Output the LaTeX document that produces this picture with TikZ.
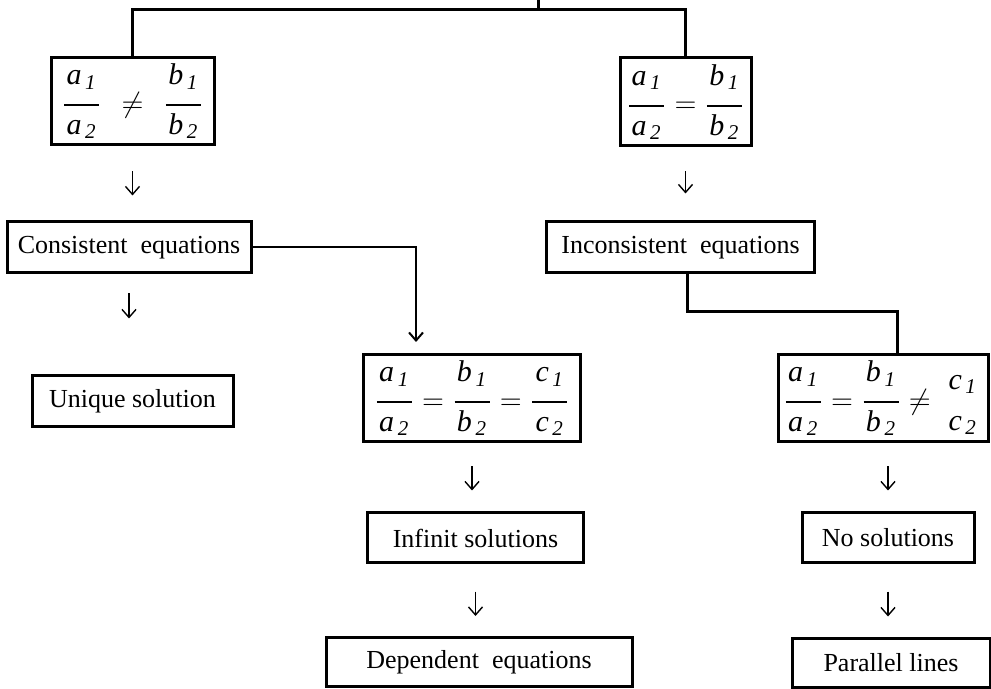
\documentclass[tikz,border=0pt]{standalone}
\usepackage{amsmath}
\usepackage{fontspec}
\setmainfont{Liberation Serif}
\usetikzlibrary{arrows.meta}
\newcommand{\coef}[2]{\hbox to 17.5pt{\hss$\textit{#1}_{\,\textit{#2}}$\hss}}
\newcommand{\ratio}[2][1.2pt]{\genfrac{}{}{#1}{0}{\coef{#2}{1}\rule[-6pt]{0pt}{6pt}}{\rule{0pt}{10.5pt}\coef{#2}{2}}}
\tikzset{
  box/.style={draw,line width=1.5pt,inner sep=0pt,font=\fontsize{13}{15}\selectfont},
  mathbox/.style={box,font=\fontsize{15}{18}\selectfont},
  tree/.style={line width=1.5pt},
  link/.style={line width=1pt},
  down/.style={->,line width=0.7pt}
}
\begin{document}
\begin{tikzpicture}[x=0.5pt,y=-0.5pt,>={Straight Barb[length=4pt,width=7pt]}]
      \useasboundingbox (0,0) rectangle (991,689);

      \node[mathbox,minimum width=81.5pt,minimum height=43.5pt] (ne)     at (132.5,101.5) {$\ratio{a}\hspace{6pt}\neq\hspace{6pt}\ratio{b}$};
      \node[mathbox,minimum width=65.5pt,minimum height=44pt]   (eq)     at (685.5,102)   {$\ratio{a}=\ratio{b}$};
      \node[box,minimum width=122pt,minimum height=25.5pt]      (cons)   at (129,247.5)   {Consistent~~equations};
      \node[box,minimum width=134pt,minimum height=25.5pt]      (incons) at (680.5,247.5) {Inconsistent~~equations};
      \node[box,minimum width=100.5pt,minimum height=25.5pt]    (unique) at (132.5,401.5) {Unique solution};
      \node[mathbox,minimum width=108.5pt,minimum height=43.5pt] (same)  at (472,398.5)   {$\ratio{a}=\ratio{b}=\ratio{c}$};
      \node[mathbox,minimum width=105pt,minimum height=43.5pt]  (differ) at (883,398.5)   {$\ratio{a}=\ratio{b}\neq\hspace{2pt}\ratio[0pt]{c}$};
      \node[box,minimum width=108pt,minimum height=25pt]        (inf)    at (475.5,538)   {Infinit solutions};
      \node[box,minimum width=153pt,minimum height=24.5pt]      (dep)    at (479,662)     {Dependent~~equations};
      \node[box,minimum width=86pt,minimum height=25pt]         (nosol)  at (888,538)     {No solutions};
      \node[box,minimum width=99pt,minimum height=24.5pt]       (par)    at (891,662.5)   {Parallel lines};

      \coordinate (top)   at (538,0);
      \coordinate (split) at (538,10);
      \coordinate (drop)  at (416,342);
      \coordinate (knee)  at (687,312);
      \coordinate (bend)  at (897,312);

      \draw[tree] (top) -- (split);
      \draw[tree] (ne.north) |- (split) -| (eq.north);
      \draw[tree] (knee |- incons.south) -- (knee) -- (bend) -- (bend |- differ.north);
      \draw[link,->] (cons.east) -| (drop);

      \draw[down,shorten <=12.5pt,shorten >=12.5pt] (ne) -- (ne |- cons.north);
      \draw[down,shorten <=12pt,shorten >=13.5pt] (eq) -- (eq |- incons.north);
      \draw[down,shorten <=9.5pt,shorten >=28pt] (cons) -- (cons |- unique.north);
      \draw[down,shorten <=11.5pt,shorten >=10.5pt] (same) -- (same |- inf.north);
      \draw[down,shorten <=13.5pt,shorten >=10pt] (inf) -- (inf |- dep.north);
      \draw[down,shorten <=11.5pt,shorten >=10.5pt] (nosol |- differ.south) -- (nosol);
      \draw[down,shorten <=13.5pt,shorten >=10pt] (nosol) -- (nosol |- par.north);

    \end{tikzpicture}
\end{document}
